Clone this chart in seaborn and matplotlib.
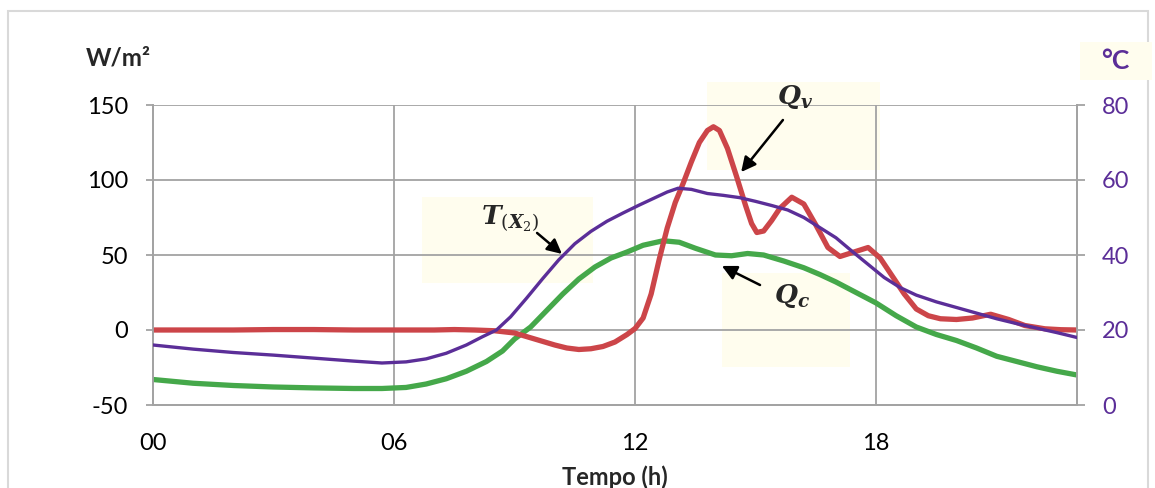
import numpy as np
import pandas as pd
import matplotlib
matplotlib.use('Agg')
import matplotlib.pyplot as plt
from matplotlib.patches import Rectangle
import seaborn as sns

# Data (hours, values); spacing is denser
# where the curves bend
qv_hora = [0, 1, 2, 3, 4, 5, 6, 7, 7.5, 8, 8.5, 9, 9.5, 10, 10.3, 10.6, 10.9,
           11.2, 11.5, 11.8, 12, 12.2, 12.4, 12.6, 12.8, 13, 13.2, 13.4, 13.6,
           13.8, 13.95, 14.1, 14.3, 14.53, 14.75, 14.9, 15.03, 15.2, 15.4,
           15.6, 15.9, 16.2, 16.5, 16.8, 17.1, 17.45, 17.8, 18.1, 18.4, 18.7,
           19, 19.3, 19.6, 20, 20.4, 20.85, 21.3, 21.7, 22.2, 22.6, 23]
q_v = [0, 0, 0, 0.3, 0.3, 0, 0, 0, 0.3, 0, -0.5, -2, -6, -10, -12, -13,
       -12.5, -11, -8, -3, 1, 8, 24, 47, 68, 85, 98, 112, 125, 133, 135.5,
       133, 121, 102, 83, 71, 65, 66, 73, 81, 88.5, 84, 70, 55, 49, 52, 55,
       48, 36, 24, 14, 9.5, 7.5, 7, 8, 10.5, 7, 3, 0.8, 0.2, 0]

qc_hora = [0, 1, 2, 3, 4, 5, 5.7, 6.3, 6.8, 7.3, 7.8, 8.3, 8.7, 9, 9.4, 9.8,
           10.2, 10.6, 11, 11.4, 11.8, 12.2, 12.7, 13.1, 13.5, 14, 14.4, 14.8,
           15.2, 15.7, 16.2, 16.6, 17, 17.5, 18, 18.5, 19, 19.5, 20, 20.5, 21,
           21.5, 22, 22.5, 23]
q_c = [-33, -35.5, -37, -38, -38.6, -39, -39, -38.3, -36, -32.5, -27.5, -21,
       -14, -6, 2, 13, 24, 34, 42, 48, 52, 56.5, 59.5, 58.5, 54.5, 50, 49.5,
       51, 50, 46, 41.5, 37, 32, 25, 18, 9.5, 2, -3, -7, -12, -17.5, -21,
       -24.5, -27.5, -30]

t_hora = [0, 1, 2, 3, 4, 5, 5.7, 6.3, 6.8, 7.3, 7.8, 8.2, 8.55, 8.9, 9.3, 9.7,
          10.1, 10.5, 10.9, 11.3, 11.7, 12.1, 12.5, 12.8, 13.07, 13.4, 13.8,
          14.2, 14.6, 15, 15.4, 15.8, 16.2, 16.6, 17, 17.4, 17.8, 18.2, 18.6,
          19, 19.5, 20, 20.5, 21, 21.5, 22, 22.5, 23]
t_x2 = [16, 14.9, 14, 13.3, 12.5, 11.7, 11.2, 11.5, 12.3, 13.8, 16, 18.2, 20,
        23.5, 28.5, 33.7, 38.7, 43, 46.3, 49, 51.2, 53.3, 55.3, 56.8, 57.8,
        57.5, 56.4, 55.9, 55.3, 54.3, 53.2, 52, 50, 47.3, 44.6, 41, 37.5, 34,
        31.3, 29.3, 27.5, 26, 24.5, 23, 21.7, 20.5, 19.3, 18]

x_ticks = [0, 6, 12, 18]
x_labels = ['00', '06', '12', '18']
w_ticks = [-50, 0, 50, 100, 150]
c_ticks = [0, 20, 40, 60, 80]

red = '#CC4549'
green = '#45A84A'
purple = '#5B2E98'
grid_c = '#A3A3A3'
box_c = '#FFFDEE'

sns.set_style('white')
plt.rcParams['font.family'] = ['Lato', 'DejaVu Sans']
plt.rcParams['mathtext.fontset'] = 'dejavuserif'
plt.rcParams['axes.unicode_minus'] = False

fig = plt.figure(figsize=(11.55, 4.88), dpi=100)
ax = fig.add_axes([153 / 1155, 1 - 405 / 488, 924 / 1155, 300 / 488])
ax2 = ax.twinx()

# outer chart border
fig.patches.append(Rectangle((8 / 1155, -0.1), 1140 / 1155, 1.1 - 11 / 488,
                             transform=fig.transFigure, fill=False,
                             edgecolor='#D9D9D9', lw=1.5))

# light yellow label boxes
for (x0, x1, y0, y1) in [(6.70, 10.95, 31.3, 88.7), (13.79, 18.10, 106.7, 165.3),
                         (14.16, 17.35, -24.7, 38)]:
    ax.add_patch(Rectangle((x0, y0), x1 - x0, y1 - y0, facecolor=box_c,
                           edgecolor='none', zorder=0, clip_on=False))
fig.patches.append(Rectangle((1080 / 1155, 1 - 80 / 488), 72 / 1155, 38 / 488,
                             transform=fig.transFigure, facecolor=box_c,
                             edgecolor='none'))

sns.lineplot(x=qc_hora, y=q_c, ax=ax, color=green, lw=3.8,
             solid_joinstyle='round', zorder=3)
sns.lineplot(x=qv_hora, y=q_v, ax=ax, color=red, lw=3.8,
             solid_joinstyle='round', zorder=4)
sns.lineplot(x=t_hora, y=t_x2, ax=ax2, color=purple, lw=2.4,
             solid_joinstyle='round', zorder=5)

ax.set_xlim(0, 23)
ax.set_ylim(-50, 150)
ax2.set_ylim(0, 80)
ax.set_xticks(x_ticks)
ax.set_xticklabels(x_labels)
ax.set_yticks(w_ticks)
ax2.set_yticks(c_ticks)
ax.set_xlabel('')
ax.set_ylabel('')
ax2.set_ylabel('')

ax.grid(True, color=grid_c, lw=1.3, zorder=1)
ax.set_axisbelow(True)
for a in (ax, ax2):
    a.spines['top'].set_visible(False)
    for s in ('left', 'right', 'bottom'):
        a.spines[s].set_color(grid_c)
        a.spines[s].set_linewidth(1.3)

ax.tick_params(axis='y', left=True, length=5, width=1.3, color=grid_c, pad=13,
               labelsize=17, labelcolor='black')
ax.tick_params(axis='x', bottom=False, length=0, pad=20, labelsize=17,
               labelcolor='black')
ax2.tick_params(axis='y', right=True, length=6, width=1.3, color=grid_c,
                pad=12, labelsize=17, labelcolor=purple)

fig.text(118 / 1155, 1 - 58 / 488, 'W/m²', ha='center', va='center',
         fontsize=17.5, fontweight='bold')
fig.text(1115 / 1155, 1 - 61 / 488, '°C', ha='center', va='center',
         fontsize=19, fontweight='bold', color=purple)
fig.text(615 / 1155, 1 - 477 / 488, 'Tempo (h)', ha='center', va='center',
         fontsize=17, fontweight='bold')

arrow = dict(arrowstyle='-|>', color='black', lw=1.8, mutation_scale=22,
             shrinkA=0, shrinkB=0)
ax.annotate('', xy=(10.18, 50.7), xytext=(9.56, 64.7), arrowprops=arrow, zorder=6)
ax.annotate('', xy=(14.64, 105.3), xytext=(15.68, 140), arrowprops=arrow,
            zorder=6, annotation_clip=False)
ax.annotate('', xy=(14.16, 42.7), xytext=(15.11, 30), arrowprops=arrow, zorder=6)
ax.text(8.89, 74.7, r'$\mathbfit{T}_{(\mathbfit{X}_2)}$', ha='center',
        va='center', fontsize=19, zorder=6)
ax.text(15.98, 155.3, r'$\mathbfit{Q}_{\mathbfit{v}}$', ha='center',
        va='center', fontsize=19, zorder=6, clip_on=False)
ax.text(15.9, 22.7, r'$\mathbfit{Q}_{\mathbfit{c}}$', ha='center',
        va='center', fontsize=19, zorder=6)

fig.savefig('out.png', dpi=100)
